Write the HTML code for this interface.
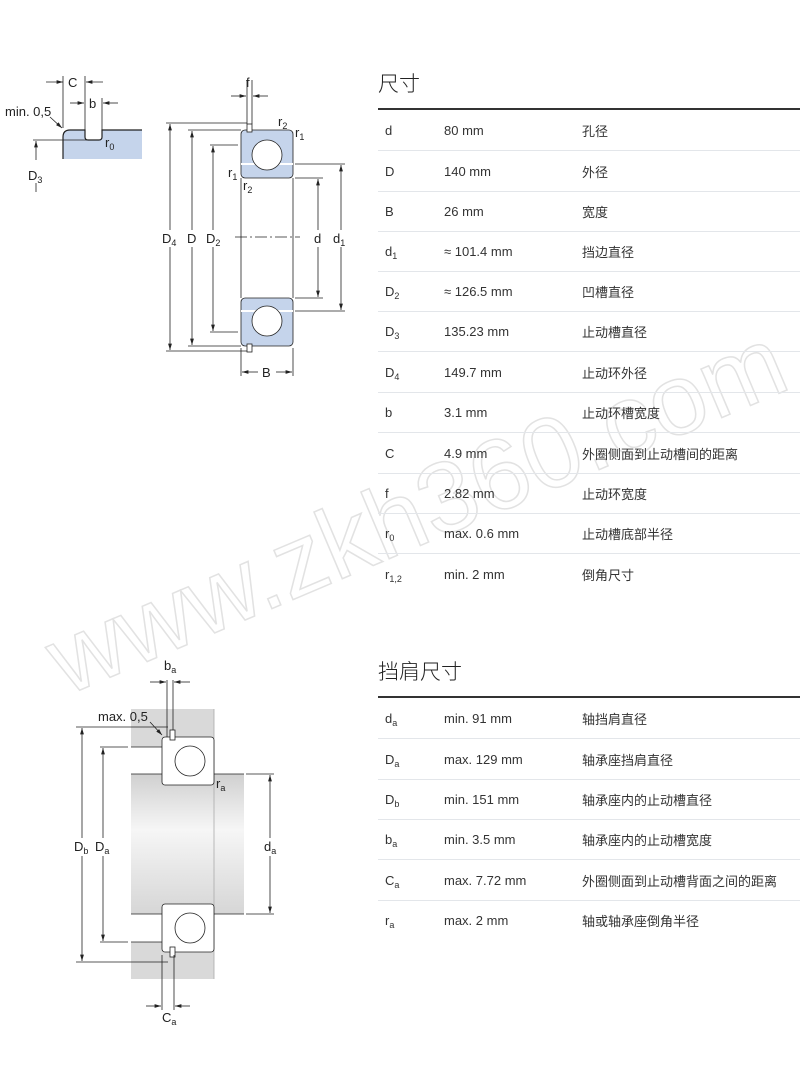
<!DOCTYPE html>
<html><head><meta charset="utf-8"><style>
body{margin:0;width:800px;height:1077px;background:#fff;position:relative;overflow:hidden;font-family:"Liberation Sans","Noto Sans CJK SC",sans-serif;color:#333}
.h{position:absolute;left:378px;font-size:21px;color:#222;font-family:"Noto Sans CJK SC",sans-serif;font-weight:300}
.rule{position:absolute;left:378px;width:422px;height:2px;background:#333}
.row{position:absolute;left:378px;width:422px;height:40px;border-bottom:1px solid #e3e6ea;font-size:13px}
.row span{position:absolute;top:14px;line-height:14px}
.a{left:7px}.b{left:66px}.c{left:204px;font-family:"Noto Sans CJK SC",sans-serif}
sub{font-size:9px;vertical-align:-3px}
svg{position:absolute;left:0;top:0}
</style></head><body>
<svg width="800" height="1077" font-family="Liberation Sans, sans-serif" font-size="13" fill="#222">
<defs>
<marker id="ar" viewBox="0 0 10 6" refX="10" refY="3" markerWidth="8" markerHeight="5" orient="auto-start-reverse"><path d="M0,0L10,3L0,6z" fill="#222"/></marker>
<linearGradient id="sh" x1="0" y1="0" x2="0" y2="1"><stop offset="0" stop-color="#d0d0d0"/><stop offset="0.4" stop-color="#f6f6f6"/><stop offset="1" stop-color="#d6d6d6"/></linearGradient>
</defs>
<text x="0" y="0" transform="translate(66,696) rotate(-23)" font-size="100" fill="none" stroke="#e2e2e2" stroke-width="1.5" font-family="Liberation Sans, sans-serif" textLength="790" lengthAdjust="spacingAndGlyphs">www.zkh360.com</text>
<g stroke="#222" stroke-width="0.8" fill="none">
<path d="M63,159V137Q63,130 70,130H85V137Q85,140 88,140H99Q102,140 102,137V130H142V159Z" fill="#c5d4eb" stroke="none"/>
<path d="M63,159V137Q63,130 70,130H85V137Q85,140 88,140H99Q102,140 102,137V130H142" stroke-width="1.2"/>
<line x1="63" y1="76" x2="63" y2="128"/><line x1="85" y1="76" x2="85" y2="130"/><line x1="102" y1="98" x2="102" y2="130"/>
<line x1="46" y1="82" x2="63" y2="82" marker-end="url(#ar)"/><line x1="103" y1="82" x2="86" y2="82" marker-end="url(#ar)"/>
<line x1="70" y1="103" x2="84" y2="103" marker-end="url(#ar)"/><line x1="118" y1="103" x2="103" y2="103" marker-end="url(#ar)"/>
<line x1="50" y1="117" x2="62" y2="128" marker-end="url(#ar)"/>
<line x1="33" y1="140" x2="98" y2="140"/><line x1="36" y1="160" x2="36" y2="141" marker-end="url(#ar)"/><line x1="36" y1="183" x2="36" y2="192"/>
<rect x="241" y="130" width="52" height="48" rx="4" fill="#c5d4eb"/>
<rect x="241" y="298" width="52" height="48" rx="4" fill="#c5d4eb"/>
<line x1="241" y1="164" x2="293" y2="164" stroke="#fff" stroke-width="2"/>
<line x1="241" y1="311" x2="293" y2="311" stroke="#fff" stroke-width="2"/>
<circle cx="267" cy="155" r="15" fill="#fff"/><circle cx="267" cy="321" r="15" fill="#fff"/>
<line x1="241" y1="178" x2="241" y2="298"/><line x1="293" y1="178" x2="293" y2="298"/>
<rect x="247" y="124" width="5" height="8" fill="#fff"/><rect x="247" y="344" width="5" height="8" fill="#fff"/>
<line x1="235" y1="237" x2="300" y2="237" stroke-dasharray="12,3,2,3"/>
<line x1="166" y1="123" x2="247" y2="123"/><line x1="166" y1="351" x2="247" y2="351"/>
<line x1="170" y1="230" x2="170" y2="124" marker-end="url(#ar)"/><line x1="170" y1="247" x2="170" y2="350" marker-end="url(#ar)"/>
<line x1="188" y1="130" x2="241" y2="130"/><line x1="188" y1="346" x2="241" y2="346"/>
<line x1="192" y1="230" x2="192" y2="131" marker-end="url(#ar)"/><line x1="192" y1="247" x2="192" y2="345" marker-end="url(#ar)"/>
<line x1="210" y1="145" x2="238" y2="145"/><line x1="210" y1="332" x2="238" y2="332"/>
<line x1="213" y1="230" x2="213" y2="146" marker-end="url(#ar)"/><line x1="213" y1="247" x2="213" y2="331" marker-end="url(#ar)"/>
<line x1="295" y1="178" x2="323" y2="178"/><line x1="295" y1="298" x2="323" y2="298"/>
<line x1="318" y1="230" x2="318" y2="179" marker-end="url(#ar)"/><line x1="318" y1="247" x2="318" y2="297" marker-end="url(#ar)"/>
<line x1="295" y1="164" x2="345" y2="164"/><line x1="295" y1="311" x2="345" y2="311"/>
<line x1="341" y1="230" x2="341" y2="165" marker-end="url(#ar)"/><line x1="341" y1="247" x2="341" y2="310" marker-end="url(#ar)"/>
<line x1="247" y1="80" x2="247" y2="124"/><line x1="252" y1="80" x2="252" y2="124"/>
<line x1="231" y1="96" x2="246" y2="96" marker-end="url(#ar)"/><line x1="268" y1="96" x2="253" y2="96" marker-end="url(#ar)"/>
<line x1="241" y1="348" x2="241" y2="376"/><line x1="293" y1="348" x2="293" y2="376"/>
<line x1="258" y1="372" x2="242" y2="372" marker-end="url(#ar)"/><line x1="276" y1="372" x2="292" y2="372" marker-end="url(#ar)"/>
<rect x="131" y="709" width="83" height="38" fill="#d9d9d9" stroke="none"/>
<rect x="131" y="942" width="83" height="37" fill="#d9d9d9" stroke="none"/>
<rect x="131" y="774" width="113" height="140" fill="url(#sh)" stroke="none"/>
<line x1="214" y1="709" x2="214" y2="979" stroke="#aaa"/>
<line x1="131" y1="747" x2="162" y2="747"/><line x1="131" y1="774" x2="162" y2="774"/>
<line x1="131" y1="914" x2="162" y2="914"/><line x1="131" y1="942" x2="162" y2="942"/>
<line x1="214" y1="774" x2="244" y2="774"/><line x1="214" y1="914" x2="244" y2="914"/>
<rect x="162" y="737" width="52" height="48" rx="3" fill="#fff"/>
<rect x="162" y="904" width="52" height="48" rx="3" fill="#fff"/>
<circle cx="190" cy="761" r="15" fill="#fff"/><circle cx="190" cy="928" r="15" fill="#fff"/>
<rect x="170" y="730" width="5" height="10" fill="#fff"/><rect x="170" y="947" width="5" height="10" fill="#fff"/>
<line x1="167" y1="680" x2="167" y2="737"/><line x1="173" y1="680" x2="173" y2="730"/>
<line x1="150" y1="682" x2="166" y2="682" marker-end="url(#ar)"/><line x1="190" y1="682" x2="174" y2="682" marker-end="url(#ar)"/>
<line x1="162" y1="955" x2="162" y2="1010"/><line x1="174" y1="955" x2="174" y2="1010"/>
<line x1="146" y1="1006" x2="161" y2="1006" marker-end="url(#ar)"/><line x1="190" y1="1006" x2="175" y2="1006" marker-end="url(#ar)"/>
<line x1="150" y1="722" x2="162" y2="735" marker-end="url(#ar)"/>
<line x1="76" y1="727" x2="168" y2="727"/><line x1="76" y1="962" x2="168" y2="962"/>
<line x1="82" y1="838" x2="82" y2="728" marker-end="url(#ar)"/><line x1="82" y1="856" x2="82" y2="961" marker-end="url(#ar)"/>
<line x1="100" y1="747" x2="128" y2="747"/><line x1="100" y1="942" x2="128" y2="942"/>
<line x1="103" y1="838" x2="103" y2="748" marker-end="url(#ar)"/><line x1="103" y1="856" x2="103" y2="941" marker-end="url(#ar)"/>
<line x1="246" y1="774" x2="274" y2="774"/><line x1="246" y1="914" x2="274" y2="914"/>
<line x1="270" y1="838" x2="270" y2="775" marker-end="url(#ar)"/><line x1="270" y1="856" x2="270" y2="913" marker-end="url(#ar)"/>
</g>
<g>
<text x="68" y="87">C</text><text x="89" y="108">b</text><text x="5" y="116">min. 0,5</text>
<text x="105" y="147">r<tspan font-size="9" dy="3">0</tspan></text>
<text x="28" y="180">D<tspan font-size="9" dy="3">3</tspan></text>
<text x="246" y="87">f</text>
<text x="278" y="126">r<tspan font-size="9" dy="3">2</tspan></text>
<text x="295" y="137">r<tspan font-size="9" dy="3">1</tspan></text>
<text x="228" y="177">r<tspan font-size="9" dy="3">1</tspan></text>
<text x="243" y="190">r<tspan font-size="9" dy="3">2</tspan></text>
<text x="162" y="243">D<tspan font-size="9" dy="3">4</tspan></text>
<text x="187" y="243">D</text>
<text x="206" y="243">D<tspan font-size="9" dy="3">2</tspan></text>
<text x="314" y="243">d</text>
<text x="333" y="243">d<tspan font-size="9" dy="3">1</tspan></text>
<text x="262" y="377">B</text>
<text x="164" y="670">b<tspan font-size="9" dy="3">a</tspan></text>
<text x="98" y="721">max. 0,5</text>
<text x="216" y="788">r<tspan font-size="9" dy="3">a</tspan></text>
<text x="74" y="851">D<tspan font-size="9" dy="3">b</tspan></text>
<text x="95" y="851">D<tspan font-size="9" dy="3">a</tspan></text>
<text x="264" y="851">d<tspan font-size="9" dy="3">a</tspan></text>
<text x="162" y="1022">C<tspan font-size="9" dy="3">a</tspan></text>
</g>
</svg>

<div class="h" style="top:68px">尺寸</div>
<div class="rule" style="top:108px"></div>
<div class="row" style="top:110px"><span class="a">d</span><span class="b">80 mm</span><span class="c">孔径</span></div>
<div class="row" style="top:151px"><span class="a">D</span><span class="b">140 mm</span><span class="c">外径</span></div>
<div class="row" style="top:191px"><span class="a">B</span><span class="b">26 mm</span><span class="c">宽度</span></div>
<div class="row" style="top:231px"><span class="a">d<sub>1</sub></span><span class="b">≈ 101.4 mm</span><span class="c">挡边直径</span></div>
<div class="row" style="top:271px"><span class="a">D<sub>2</sub></span><span class="b">≈ 126.5 mm</span><span class="c">凹槽直径</span></div>
<div class="row" style="top:311px"><span class="a">D<sub>3</sub></span><span class="b">135.23 mm</span><span class="c">止动槽直径</span></div>
<div class="row" style="top:352px"><span class="a">D<sub>4</sub></span><span class="b">149.7 mm</span><span class="c">止动环外径</span></div>
<div class="row" style="top:392px"><span class="a">b</span><span class="b">3.1 mm</span><span class="c">止动环槽宽度</span></div>
<div class="row" style="top:433px"><span class="a">C</span><span class="b">4.9 mm</span><span class="c">外圈侧面到止动槽间的距离</span></div>
<div class="row" style="top:473px"><span class="a">f</span><span class="b">2.82 mm</span><span class="c">止动环宽度</span></div>
<div class="row" style="top:513px"><span class="a">r<sub>0</sub></span><span class="b">max. 0.6 mm</span><span class="c">止动槽底部半径</span></div>
<div class="row" style="top:554px;border:none"><span class="a">r<sub>1,2</sub></span><span class="b">min. 2 mm</span><span class="c">倒角尺寸</span></div>

<div class="h" style="top:656px">挡肩尺寸</div>
<div class="rule" style="top:696px"></div>
<div class="row" style="top:698px"><span class="a">d<sub>a</sub></span><span class="b">min. 91 mm</span><span class="c">轴挡肩直径</span></div>
<div class="row" style="top:739px"><span class="a">D<sub>a</sub></span><span class="b">max. 129 mm</span><span class="c">轴承座挡肩直径</span></div>
<div class="row" style="top:779px"><span class="a">D<sub>b</sub></span><span class="b">min. 151 mm</span><span class="c">轴承座内的止动槽直径</span></div>
<div class="row" style="top:819px"><span class="a">b<sub>a</sub></span><span class="b">min. 3.5 mm</span><span class="c">轴承座内的止动槽宽度</span></div>
<div class="row" style="top:860px"><span class="a">C<sub>a</sub></span><span class="b">max. 7.72 mm</span><span class="c">外圈侧面到止动槽背面之间的距离</span></div>
<div class="row" style="top:900px;border:none"><span class="a">r<sub>a</sub></span><span class="b">max. 2 mm</span><span class="c">轴或轴承座倒角半径</span></div>
</body></html>
